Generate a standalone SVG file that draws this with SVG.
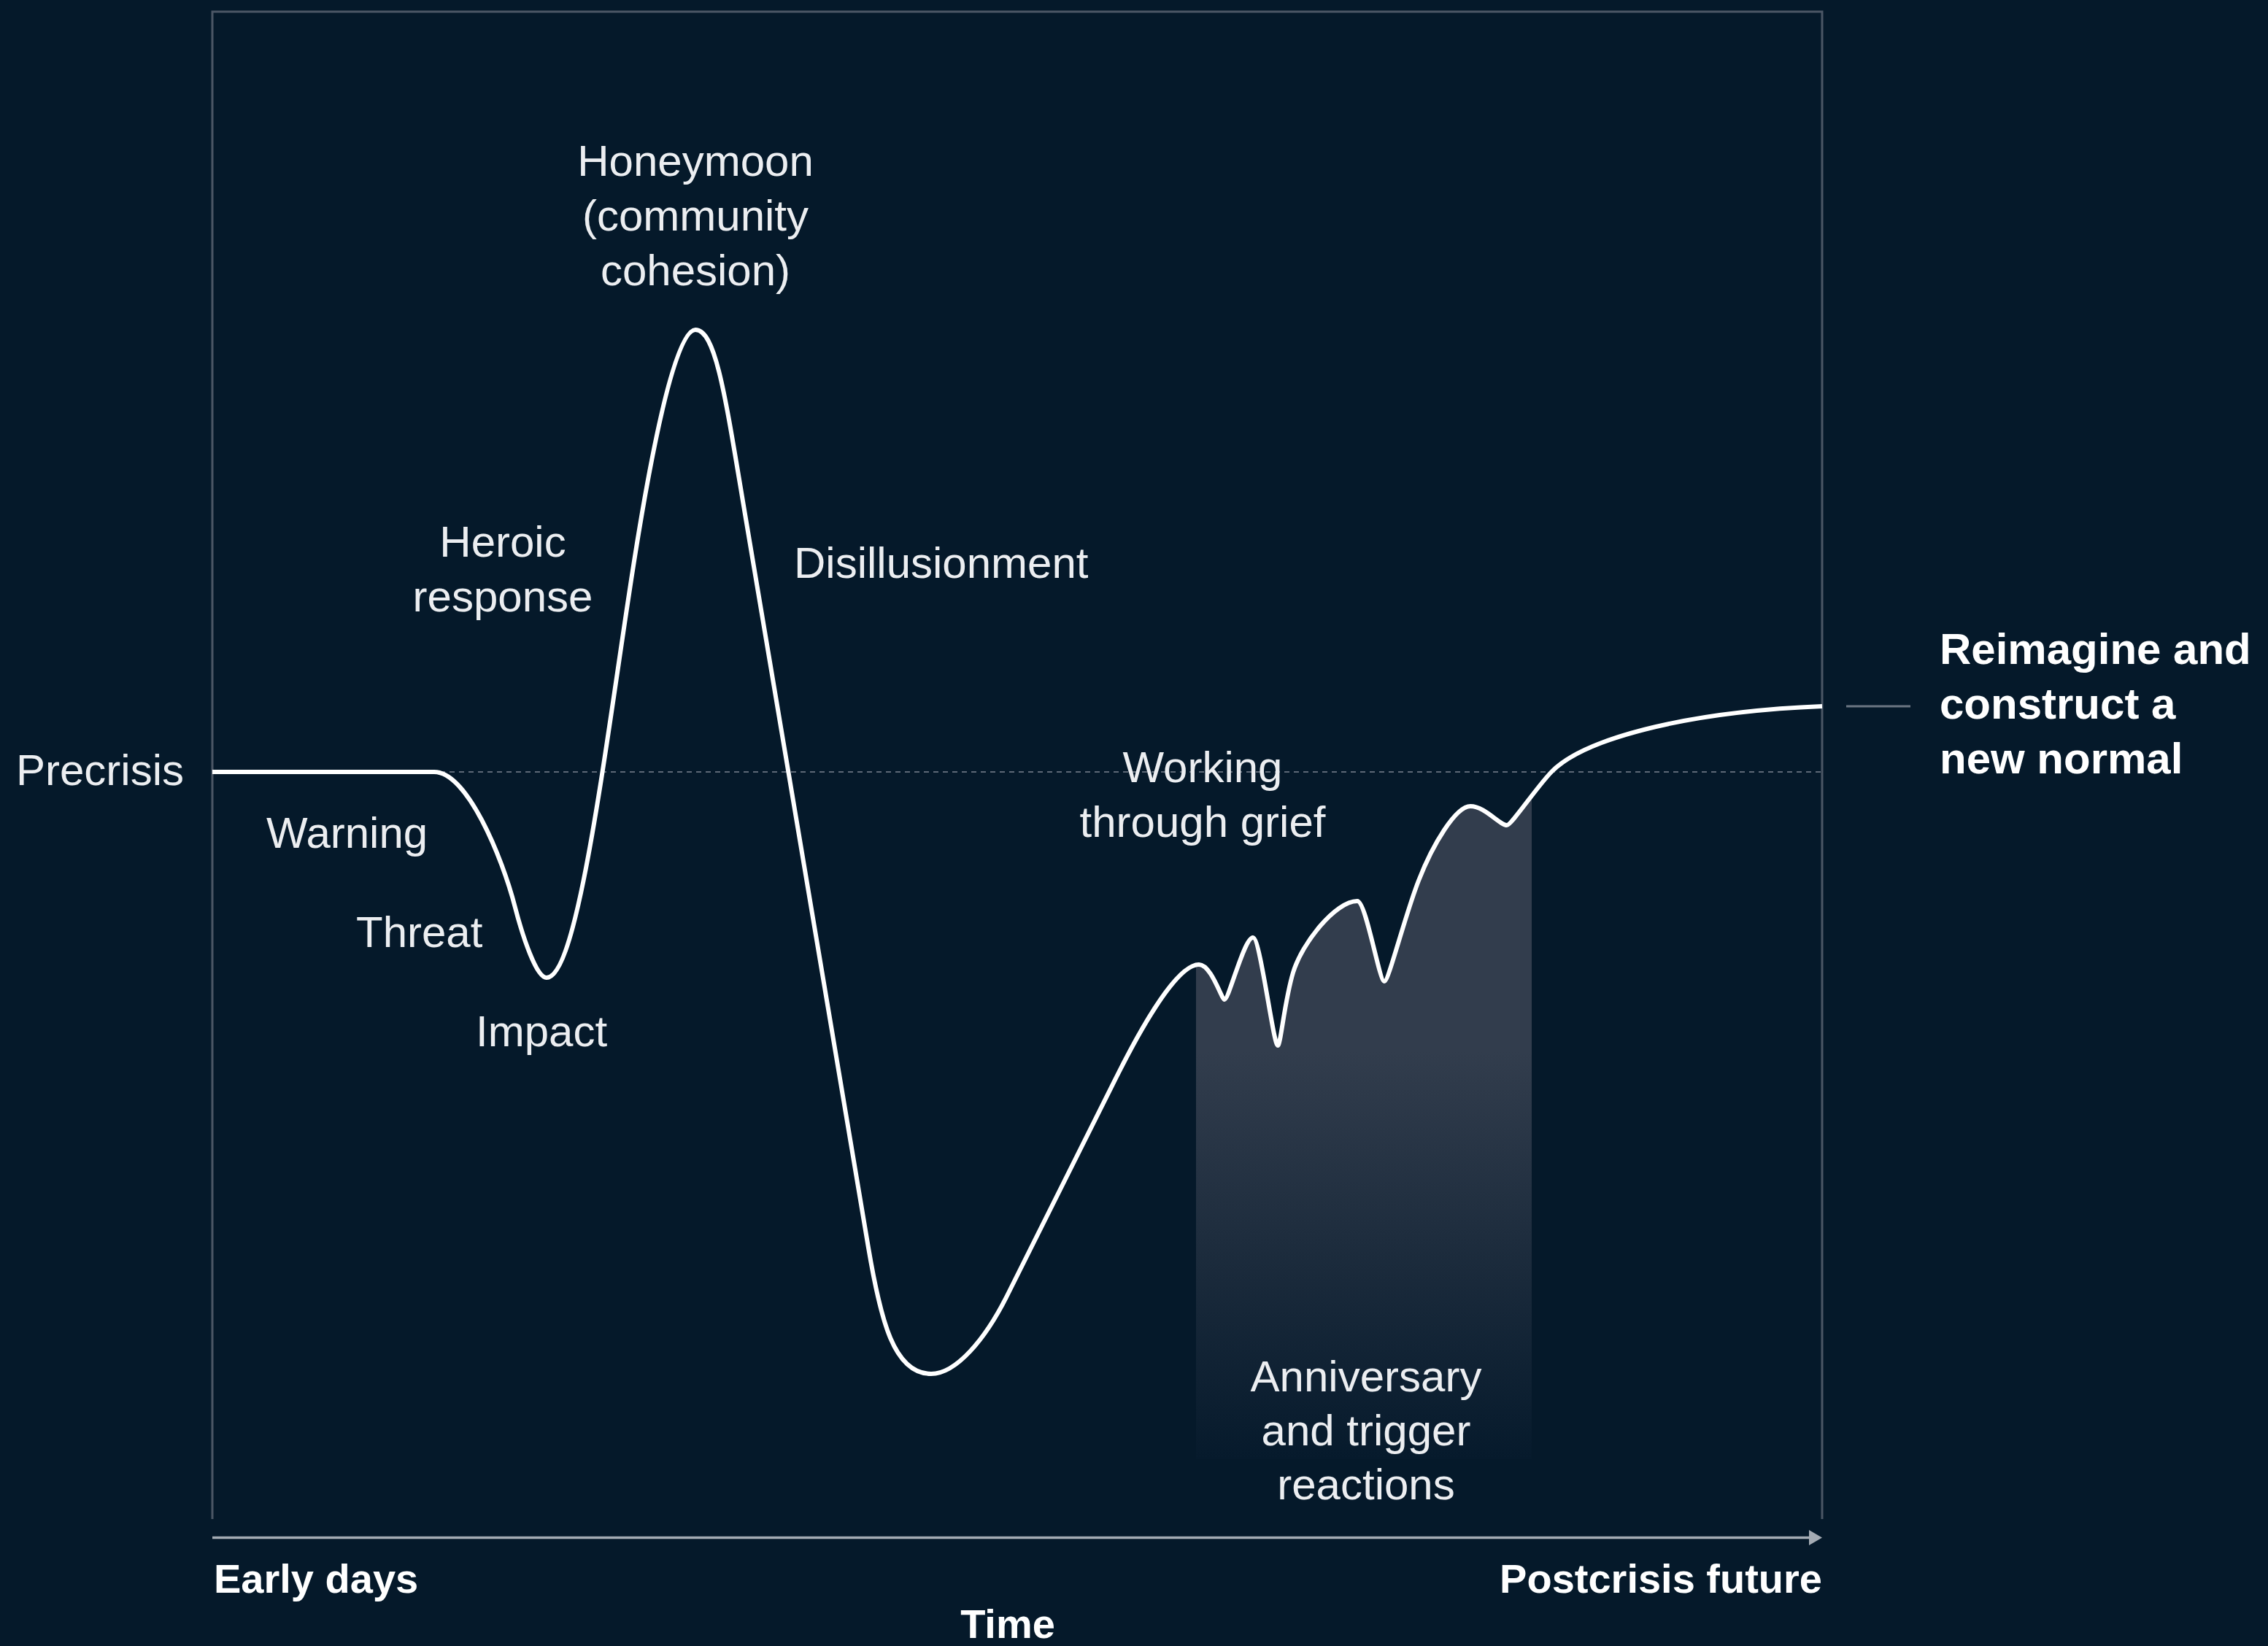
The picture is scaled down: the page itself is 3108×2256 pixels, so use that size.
<svg xmlns="http://www.w3.org/2000/svg" width="3108" height="2256" viewBox="0 0 3108 2256">
  <defs>
    <style>
      .lbl { font-family: "Liberation Sans", Arial, sans-serif; font-size: 60px; fill: #eceef1; }
      .b { font-weight: 700; fill: #ffffff; }
      .ax { font-family: "Liberation Sans", Arial, sans-serif; font-size: 56px; font-weight: 700; fill: #ffffff; }
      .mid { text-anchor: middle; }
      .end { text-anchor: end; }
      .frame { fill: none; stroke: #4b5665; stroke-width: 3; }
      .dots { fill: none; stroke: #5d6876; stroke-width: 2.2; stroke-dasharray: 7 6; }
      .curve { fill: none; stroke: #ffffff; stroke-width: 6; stroke-linejoin: round; }
      .axis { fill: none; stroke: #a4abb3; stroke-width: 3.5; }
      .tick { fill: none; stroke: #6b7682; stroke-width: 3; }
    </style>
    <marker id="arrow" viewBox="0 0 18 21" refX="0" refY="10.5" markerWidth="18" markerHeight="21" markerUnits="userSpaceOnUse" orient="auto">
      <path d="M0,0 L18,10.5 L0,21 Z" fill="#a4abb3"/>
    </marker>
    <linearGradient id="fade" gradientUnits="userSpaceOnUse" x1="0" y1="1440" x2="0" y2="2000">
      <stop offset="0" stop-color="#323d4d"/>
      <stop offset="1" stop-color="#061a2c"/>
    </linearGradient>
    <clipPath id="under">
      <path d="M291,1058 H595 C640,1058 688,1174 706,1244 C716.4,1284 735,1340 749,1340 C790,1340 826,1052 861,821 C891,621 925,452 953,452 C980,452 993,537 1018,687 L1190,1710 C1206.8,1810 1225,1883 1276,1883 C1310,1883 1350,1836 1380,1776 L1530,1476 C1555,1426 1610,1322 1643,1322 C1660,1322 1674,1370 1678,1370 C1684,1370 1705,1285 1717,1285 C1727,1285 1745,1433 1751,1433 C1755,1433 1760,1373 1772,1333 C1784,1293 1830,1235 1860,1235 C1872,1235 1890,1345 1897,1345 C1903,1345 1924.5,1257 1944,1207 C1963.5,1157 1995,1105 2015,1105 C2035,1105 2055,1131 2065,1131 C2071,1131 2107,1077 2127,1057 C2169,1015 2300,976 2497,968 L2497,2200 L291,2200 Z"/>
    </clipPath>
  </defs>

  <rect x="0" y="0" width="3108" height="2256" fill="#05192a"/>

  <g id="frame">
    <path class="frame" d="M291,2082 V16 H2497 V2082"/>
  </g>

  <g id="band">
    <rect x="1639" y="1000" width="460" height="1000" fill="url(#fade)" clip-path="url(#under)"/>
  </g>

  <g id="connectors">
    <path class="dots" d="M291,1058 H2497"/>
    <path class="axis" d="M291,2107.5 H2479" marker-end="url(#arrow)"/>
    <path class="tick" d="M2530,968 H2618"/>
    <path id="curve" class="curve" d="M291,1058 H595 C640,1058 688,1174 706,1244 C716.4,1284 735,1340 749,1340 C790,1340 826,1052 861,821 C891,621 925,452 953,452 C980,452 993,537 1018,687 L1190,1710 C1206.8,1810 1225,1883 1276,1883 C1310,1883 1350,1836 1380,1776 L1530,1476 C1555,1426 1610,1322 1643,1322 C1660,1322 1674,1370 1678,1370 C1684,1370 1705,1285 1717,1285 C1727,1285 1745,1433 1751,1433 C1755,1433 1760,1373 1772,1333 C1784,1293 1830,1235 1860,1235 C1872,1235 1890,1345 1897,1345 C1903,1345 1924.5,1257 1944,1207 C1963.5,1157 1995,1105 2015,1105 C2035,1105 2055,1131 2065,1131 C2071,1131 2107,1077 2127,1057 C2169,1015 2300,976 2497,968"/>
  </g>

  <g id="precrisis"><text class="lbl end" x="252" y="1076">Precrisis</text></g>
  <g id="warning"><text class="lbl" x="365" y="1162">Warning</text></g>
  <g id="threat"><text class="lbl" x="488" y="1298">Threat</text></g>
  <g id="impact"><text class="lbl" x="652" y="1434">Impact</text></g>
  <g id="heroic">
    <text class="lbl mid" x="689" y="763">Heroic</text>
    <text class="lbl mid" x="689" y="838">response</text>
  </g>
  <g id="honeymoon">
    <text class="lbl mid" x="953" y="241">Honeymoon</text>
    <text class="lbl mid" x="953" y="316">(community</text>
    <text class="lbl mid" x="953" y="391">cohesion)</text>
  </g>
  <g id="disillusionment"><text class="lbl" x="1088" y="792">Disillusionment</text></g>
  <g id="working">
    <text class="lbl mid" x="1648" y="1072">Working</text>
    <text class="lbl mid" x="1648" y="1147">through grief</text>
  </g>
  <g id="anniversary">
    <text class="lbl mid" x="1872" y="1907">Anniversary</text>
    <text class="lbl mid" x="1872" y="1981">and trigger</text>
    <text class="lbl mid" x="1872" y="2055">reactions</text>
  </g>
  <g id="newnormal">
    <text class="lbl b" x="2658" y="910">Reimagine and</text>
    <text class="lbl b" x="2658" y="985">construct a</text>
    <text class="lbl b" x="2658" y="1060">new normal</text>
  </g>
  <g id="axis-labels">
    <text class="ax" x="293" y="2183">Early days</text>
    <text class="ax end" x="2497" y="2183">Postcrisis future</text>
    <text class="ax mid" x="1381" y="2245">Time</text>
  </g>
</svg>
